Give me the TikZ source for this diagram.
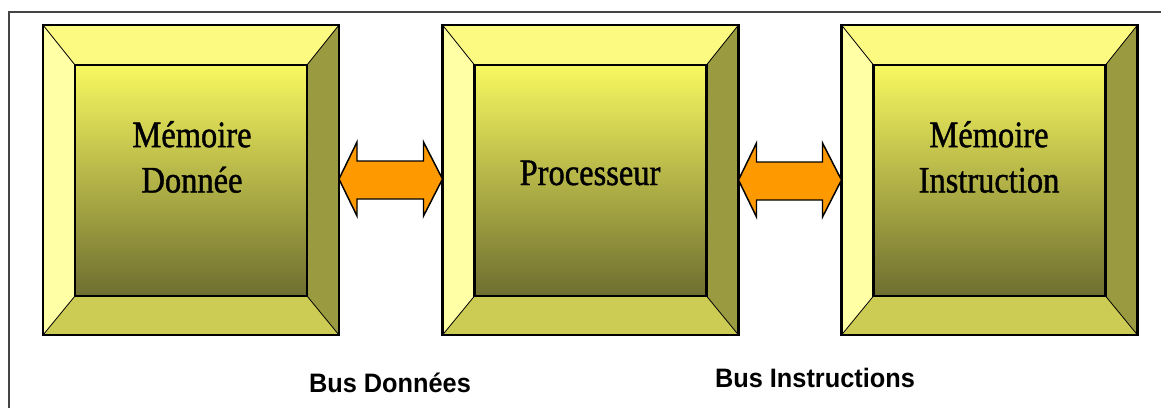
\documentclass[tikz,border=0pt]{standalone}
\usepackage{fontspec}
\setmainfont{Liberation Serif}
\newfontfamily\boxfont[FakeBold=1.2]{Liberation Serif}
\newfontfamily\busfont{Liberation Sans}
\usetikzlibrary{calc}
\definecolor{topface}{HTML}{FCFA80}
\definecolor{leftface}{HTML}{FFFFA6}
\definecolor{rightface}{HTML}{9A9A40}
\definecolor{bottomface}{HTML}{CCCC55}
\definecolor{gradtop}{HTML}{F8F860}
\definecolor{gradmid}{HTML}{C6C050}
\definecolor{gradbot}{HTML}{6E6E30}
\definecolor{busorange}{HTML}{FF9900}
\definecolor{framegray}{HTML}{444444}
\tikzset{
  boxouter/.style={minimum width=296*0.75pt, minimum height=310*0.75pt, inner sep=0pt, outer sep=0pt},
  boxtext/.style={inner sep=0pt, align=center, font=\boxfont\fontsize{28}{34}\selectfont},
  buslabel/.style={inner sep=0pt, anchor=base, font=\busfont\bfseries\fontsize{20}{24}\selectfont},
  busarrow/.style={fill=busorange, draw=black, line width=1.1pt, line join=miter},
  edge/.style={draw=black, line width=0.6pt},
}
\newcommand{\bevelbox}[1]{%
  \coordinate (#1-NW) at (#1.north west);
  \coordinate (#1-NE) at (#1.north east);
  \coordinate (#1-SW) at (#1.south west);
  \coordinate (#1-SE) at (#1.south east);
  \coordinate (#1-iNW) at ($(#1.north west)+(32,40)$);
  \coordinate (#1-iNE) at ($(#1.north east)+(-32,40)$);
  \coordinate (#1-iSW) at ($(#1.south west)+(32,-39)$);
  \coordinate (#1-iSE) at ($(#1.south east)+(-32,-39)$);
  \fill[topface] (#1-NW) -- (#1-NE) -- (#1-iNE) -- (#1-iNW) -- cycle;
  \fill[leftface] (#1-NW) -- (#1-iNW) -- (#1-iSW) -- (#1-SW) -- cycle;
  \fill[rightface] (#1-NE) -- (#1-SE) -- (#1-iSE) -- (#1-iNE) -- cycle;
  \fill[bottomface] (#1-SW) -- (#1-iSW) -- (#1-iSE) -- (#1-SE) -- cycle;
  \shade[top color=gradtop, middle color=gradmid, bottom color=gradbot] (#1-iNW) rectangle (#1-iSE);
  \draw[edge] (#1-NW) -- (#1-iNW) (#1-NE) -- (#1-iNE) (#1-SW) -- (#1-iSW) (#1-SE) -- (#1-iSE);
  \draw[black, line width=1.6pt] (#1-iNW) rectangle (#1-iSE);
  \draw[black, line width=1.8pt] (#1-NW) rectangle (#1-SE);
}
\newcommand{\busarrow}[2]{%
  \path[busarrow] (#1) -- ($(#1)+(18,-37)$) -- ($(#1)+(18,-18)$) -- ($(#2)+(-19,-18)$) -- ($(#2)+(-19,-37)$)
    -- (#2) -- ($(#2)+(-19,37)$) -- ($(#2)+(-19,20)$) -- ($(#1)+(18,20)$) -- ($(#1)+(18,37)$) -- cycle;
}
\begin{document}
\begin{tikzpicture}[x=0.75pt, y=-0.75pt]
\useasboundingbox (0,0) rectangle (1161,408);
% frame
\draw[framegray, line width=1pt] (1161,12) -- (9,12) -- (9,408);
% boxes
\node[boxouter] (m1) at (191,180) {};
\node[boxouter] (p) at (590.5,180) {};
\node[boxouter] (m2) at (989.5,180) {};
\bevelbox{m1}
\bevelbox{p}
\bevelbox{m2}
% texts
\node[boxtext] (t1) at (192,157) {\scalebox{0.87}[1]{Mémoire}\\\scalebox{0.87}[1]{Donnée}};
\node[boxtext, anchor=base] (t2) at (590,185) {\scalebox{0.87}[1]{Processeur}};
\node[boxtext] (t3) at (989,157) {\scalebox{0.87}[1]{Mémoire}\\\scalebox{0.87}[1]{Instruction}};
% arrows
\coordinate (a1l) at ($(m1.east)+(0,-1)$);
\coordinate (a1r) at ($(p.west)+(0,-1)$);
\coordinate (a2l) at ($(p.east)+(0,0)$);
\coordinate (a2r) at ($(m2.west)+(0,0)$);
\busarrow{a1l}{a1r}
\busarrow{a2l}{a2r}
% bus labels
\node[buslabel] (b1) at (390,392) {\scalebox{0.95}[1]{Bus Données}};
\node[buslabel] (b2) at (815,387) {\scalebox{0.95}[1]{Bus Instructions}};
\end{tikzpicture}
\end{document}
